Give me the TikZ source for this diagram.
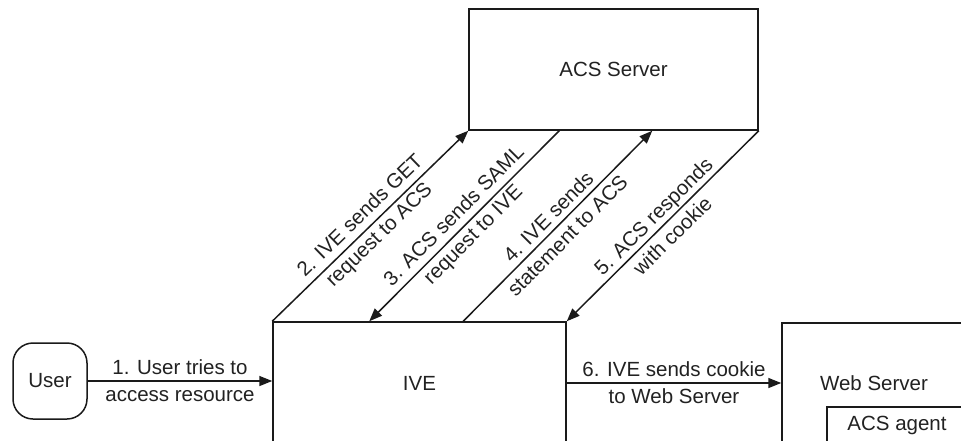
\documentclass[tikz,border=0pt]{standalone}
\usepackage{fontspec}
\setmainfont{Liberation Sans}
\usetikzlibrary{arrows.meta,calc}
\definecolor{lc}{HTML}{1A1A1A}
\definecolor{tc}{HTML}{222222}
\begin{document}
\begin{tikzpicture}[x=1pt,y=-1pt,
  box/.style={draw=lc, line width=1.5pt, rectangle, inner sep=0pt, text=tc,
    font=\fontsize{20.5}{25}\selectfont},
  conn/.style={draw=lc, line width=1.5pt, -{Triangle[length=13pt,width=10pt]}},
  lbl/.style={font=\fontsize{20.5}{27}\selectfont, text=tc, align=center, inner sep=0pt},
  ]
\clip (0,0) rectangle (961,440);
\fill[white] (0,0) rectangle (961,440);
% boxes
\node[box, minimum width=289pt, minimum height=121pt] (acs) at (613.5,69.5) {ACS Server};
\node[box, minimum width=293pt, minimum height=122pt] (ive) at (419.5,383) {IVE};
\node[box, minimum width=184pt, minimum height=120pt] (web) at (874,383) {Web Server};
\node[box, minimum width=140pt, minimum height=36pt] (agent) at (897,425) {ACS agent};
\node[box, rounded corners=20pt, minimum width=74pt, minimum height=76pt] (user) at (50,381) {User};
% connectors
\draw[conn] (user.east) -- (user.east -| ive.west)
  node[midway, lbl] {1. User tries to\\access resource};
\draw[conn] (ive.east) -- (ive.east -| web.west)
  node[midway, lbl] {6. IVE sends cookie\\to Web Server};
\draw[conn] (ive.north west) -- (acs.south west)
  node[midway, sloped, lbl] {2. IVE sends GET\\request to ACS};
\draw[conn] ([xshift=91pt]acs.south west) -- ([xshift=97pt]ive.north west)
  node[midway, sloped, lbl] {3. ACS sends SAML\\request to IVE};
\draw[conn] ([xshift=191pt]ive.north west) -- ([xshift=184pt]acs.south west)
  node[midway, sloped, lbl] {4. IVE sends\\statement to ACS};
\draw[conn] (acs.south east) -- (ive.north east)
  node[midway, sloped, lbl] {5. ACS responds\\with cookie};
\end{tikzpicture}
\end{document}
